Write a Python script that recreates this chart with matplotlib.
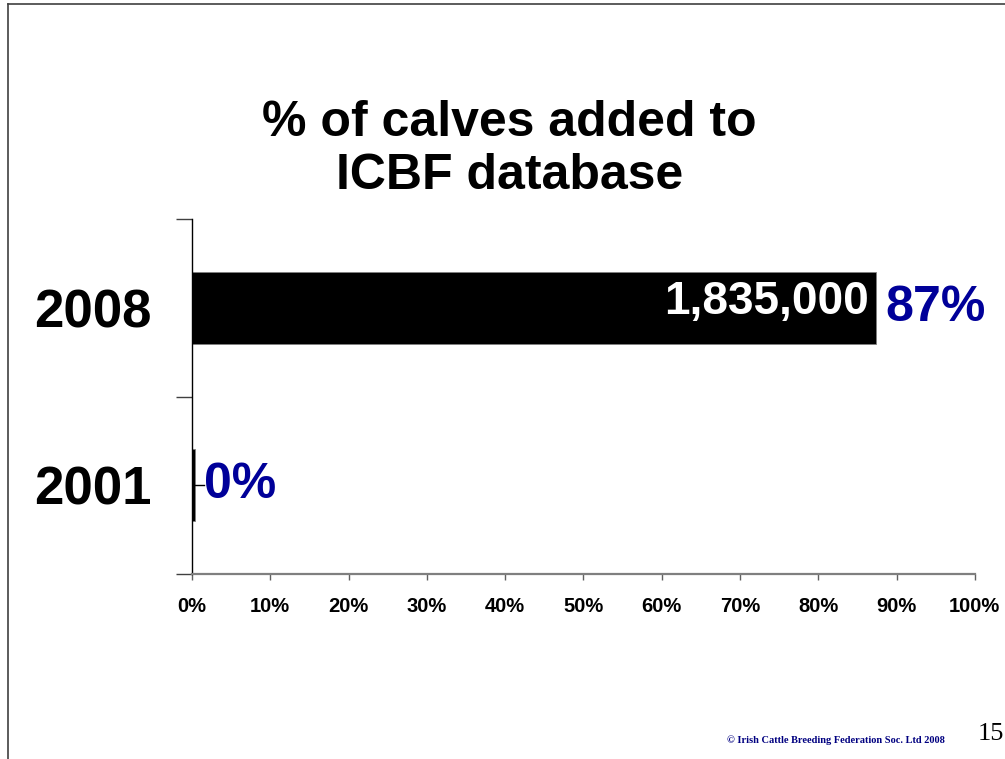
import matplotlib
matplotlib.use("Agg")
import matplotlib.pyplot as plt
from matplotlib.lines import Line2D
from matplotlib import font_manager

plt.rcParams['font.family'] = ['Liberation Sans', 'DejaVu Sans']

years = ['2001', '2008']
pct = [0.4, 87.4]
pct_labels = ['0%', '87%']
calves_label = '1,835,000'
xticks = list(range(0, 101, 10))
xtick_labels = [f'{t}%' for t in xticks]

# narrow font for the count inside the bar, if installed
narrow_ok = False
try:
    fp = font_manager.findfont(font_manager.FontProperties(family='Liberation Sans Narrow', weight='bold'),
                               fallback_to_default=False)
    narrow_ok = 'Narrow' in fp
except Exception:
    narrow_ok = False

fig = plt.figure(figsize=(10.05, 7.59), dpi=100)
ax = fig.add_axes([0.191, 0.2437, 0.779, 0.4677])

pos = list(range(len(years)))
ax.barh(pos, pct, height=0.406, color='black', edgecolor='#808080', linewidth=0.6)

ax.set_xlim(0, 100)
ax.set_ylim(-0.5, 1.5)

# x axis
ax.set_xticks(xticks)
ax.set_xticklabels(xtick_labels, fontsize=14.5, fontweight='bold')
ax.tick_params(axis='x', direction='out', length=4.5, width=1, color='#606060', pad=12)
ax.spines['bottom'].set_color('#7f7f7f')
ax.spines['bottom'].set_linewidth(1.6)

# y axis: boundary ticks, category labels on minor ticks
ax.set_yticks([-0.5, 0.5, 1.5])
ax.set_yticklabels([])
ax.tick_params(axis='y', which='major', direction='out', length=11.5, width=1, color='#404040')
ax.set_yticks(pos, minor=True)
ax.set_yticklabels(years, minor=True, fontsize=38, fontweight='bold')
ax.tick_params(axis='y', which='minor', length=0, pad=29)
ax.spines['left'].set_color('black')
ax.spines['left'].set_linewidth(1)
ax.spines['top'].set_visible(False)
ax.spines['right'].set_visible(False)

# value labels
ax.text(pct[1] + 1.2, pos[1], pct_labels[1], color='#000099', fontsize=36,
        fontweight='bold', va='center', ha='left')
if narrow_ok:
    ax.text(pct[1] - 0.9, pos[1] + 0.03, calves_label, color='white', fontsize=40,
            fontweight='bold', va='center', ha='right',
            family=['Liberation Sans Narrow', 'Liberation Sans'])
else:
    ax.text(pct[1] - 0.9, pos[1] + 0.03, calves_label, color='white', fontsize=33,
            fontweight='bold', va='center', ha='right')
ax.text(1.5, pos[0], pct_labels[0], color='#000099', fontsize=36,
        fontweight='bold', va='center', ha='left')
ax.plot([pct[0], 1.5], [pos[0], pos[0]], color='black', linewidth=1)

# title
fig.text(0.507, 0.803, '% of calves added to\nICBF database', ha='center', va='center',
         fontsize=36, fontweight='bold', linespacing=1.22)

# slide frame
fig.add_artist(Line2D([0.008, 0.008], [0, 0.9947], color='#404040', linewidth=1.2))
fig.add_artist(Line2D([0.008, 1.0], [0.9947, 0.9947], color='#404040', linewidth=1.2))

# footer
fig.text(0.940, 0.018, '© Irish Cattle Breeding Federation Soc. Ltd 2008', ha='right',
         va='bottom', fontsize=7.5, fontweight='bold', color='#000080',
         family=['Liberation Serif', 'DejaVu Serif'])
fig.text(0.973, 0.018, '15', ha='left', va='bottom', fontsize=19,
         family=['Liberation Serif', 'DejaVu Serif'])

fig.savefig('out.png', dpi=100)
